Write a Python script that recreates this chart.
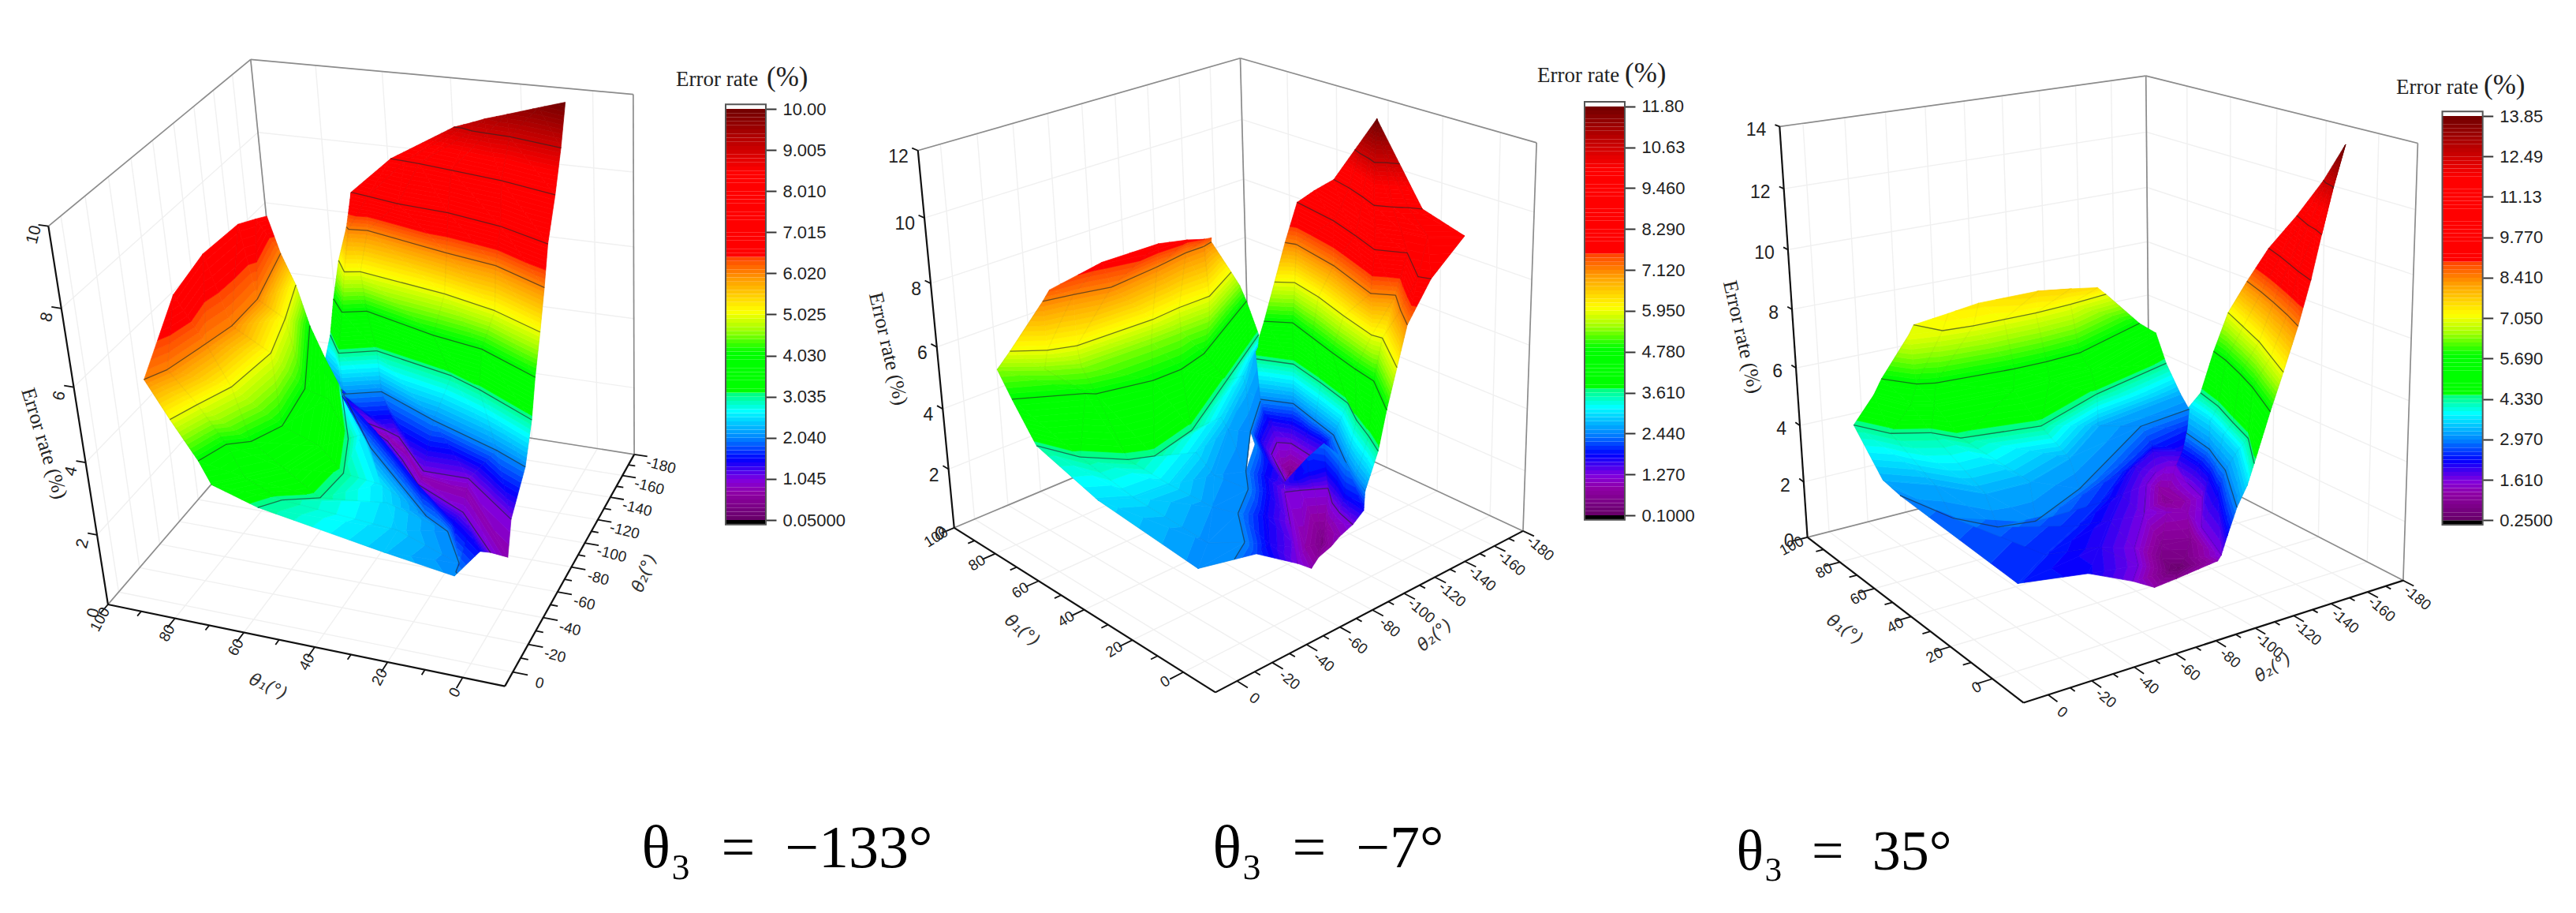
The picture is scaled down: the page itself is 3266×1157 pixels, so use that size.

import numpy as np, altair as alt, pandas as pd

# ---------- readings from the picture ----------
# Angles are (theta1, theta2) in degrees measured along the floor box edges; err is the error rate in %.
p1a_angles = [
 [(43,-168),(38,-167),(35,-168),(29,-167),(21,-167),(14,-165)],
 [(43,-168),(41,-168),(38,-166),(34,-165),(28,-164),(14,-158)],
 [(60,-167),(56,-166),(52,-165),(43,-162),(29,-157),(14,-149)],
 [(71,-165),(66,-163),(57,-159),(43,-156),(28,-149),(14,-138)],
 [(73,-165),(72,-163),(67,-164),(43,-152),(29,-146),(14,-132)],
 [(76,-165),(72,-155),(68,-157),(43,-147),(28,-138),(14,-125)],
 [(77,-160),(72,-149),(66,-153),(45,-140),(31,-134),(14,-117)],
 [(78,-157),(72,-142),(63,-149),(40,-137),(31,-129),(14,-111)],
 [(80,-153),(70,-136),(61,-143),(43,-126),(23,-110),(14,-101)],
 [(67,-143),(60,-139),(55,-135),(43,-111),(31,-111),(15,-86)],
 [(67,-148),(59,-140),(52,-131),(44,-113),(31,-108),(12,-66)],
 [(64,-138),(57,-130),(50,-117),(42,-100),(27,-85),(15,-60)],
 [(64,-125),(56,-115),(46,-97),(39,-82),(25,-62),(15,-46)]]
p1a_err = [[9.005,9.2,9.3,9.5,9.75,10.0],[9.005]*6,[8.01]*6,[7.015]*6,[6.02]*6,[5.025]*6,[4.03]*6,[3.035]*6,[2.04]*6,[1.045]*6,[.75]*6,[1.045]*6,[1.6]*6]
p1b_angles = [
 [(86,-13),(90,-56),(93,-94),(92,-125),(89,-132),(87,-136)],
 [(86,-13),(83,-23),(80,-47),(78,-64),(78,-89),(83,-132)],
 [(81,-14),(78,-28),(74,-45),(72,-76),(76,-106),(81,-137)],
 [(75,-14),(72,-29),(67,-34),(63,-49),(65,-80),(77,-133)],
 [(71,-10),(65,-19),(58,-30),(54,-50),(61,-87),(70,-120)],
 [(61,-14),(57,-22),(49,-28),(48,-48),(53,-74),(64,-112)],
 [(31,-16),(31,-31),(37,-46),(41,-57),(54,-92),(67,-122)],
 [(14,-15),(15,-25),(22,-45),(29,-53),(53,-96),(70,-136)],
 [(15,-49),(20,-57),(25,-65),(39,-88),(59,-125),(73,-146)]]
p1b_err = [[6.02,6.9,6.9,6.9,6.9,6.9],[6.02]*6,[5.025]*6,[4.03]*6,[3.6]*6,[3.035]*6,[2.35,2.4,2.5,2.55,2.55,2.6],[2.1,2.04,2.04,2.04,2.04,2.04],[1.5,1.5,1.5,1.5,1.5,1.6]]

p2a_angles = [
 [(42,-165)]*7,
 [(50,-166),(47,-164),(43,-162),(40,-160),(38,-163),(37,-164),(35,-166)],
 [(58,-167),(51,-164),(44,-160),(38,-156),(34,-160),(31,-164),(28,-167)],
 [(65,-167),(52,-161),(43,-156),(36,-153),(30,-158),(23,-161),(17,-172)],
 [(72,-168),(56,-163),(45,-157),(35,-151),(28,-158),(16,-142),(13,-144)],
 [(72,-160),(69,-162),(52,-156),(33,-145),(28,-151),(21,-141),(14,-132)],
 [(72,-153),(68,-159),(57,-155),(44,-148),(31,-142),(28,-143),(14,-126)],
 [(72,-146),(66,-154),(56,-149),(46,-144),(35,-139),(27,-136),(14,-120)],
 [(73,-140),(63,-149),(50,-144),(37,-138),(29,-129),(21,-122),(14,-115)],
 [(70,-136),(61,-145),(50,-140),(41,-136),(28,-121),(21,-114),(15,-109)],
 [(67,-139),(61,-144),(55,-143),(48,-142),(40,-130),(33,-121),(23,-112)],
 [(62,-136),(59,-140),(55,-139),(51,-138),(47,-133),(43,-127),(37,-120)],
 [(58,-126),(56,-129),(55,-132),(55,-132),(55,-132),(49,-124),(39,-116)],
 [(42,-107)]*7]
p2a_err = [[11.8]*7,[10.63]*7,[9.46]*7,[8.9]*7,[8.29]*7,[7.12]*7,[5.95]*7,[4.78]*7,[3.61]*7,[2.44]*7,[1.7]*7,[1.27]*7,[1.27,.9,.6,.6,.6,.9,1.2],[1.5]*7]
p2d_angles = [
 [(68,-136),(68,-138),(67,-141),(67,-139)],
 [(57,-112),(59,-118),(60,-123),(62,-136)],
 [(51,-105),(51,-110),(51,-114),(58,-126)],
 [(42,-85),(44,-99),(42,-107),(42,-107)],
 [(35,-75),(38,-91),(41,-106),(41,-106)],
 [(28,-58),(30,-76),(29,-89),(29,-89)],
 [(17,-44),(20,-62),(19,-77),(19,-77)],
 [(13,-32),(15,-47),(14,-68),(14,-68)]]
p2d_err = [[2.44,2.0,1.7,1.7],[2.44,2.05,1.7,1.27],[2.44,1.95,1.6,1.27],[2.44,1.85,1.5,1.5],[2.44,1.8,1.27,1.27],[2.44,1.8,1.27,1.27],[2.44,1.75,1.27,1.27],[2.44,2.1,1.27,1.27]]
p2b_angles = [
 [(42,-107),(42,-113),(42,-122),(41,-130),(32,-124),(28,-121),(15,-109)],
 [(41,-106),(38,-108),(38,-115),(37,-124),(30,-119),(24,-113),(16,-110)],
 [(41,-106),(39,-112),(37,-117),(35,-122),(29,-114),(24,-110),(18,-107)],
 [(14,-68),(22,-86),(25,-101),(25,-101),(26,-105),(25,-107),(18,-107)],
 [(14,-68),(13,-74),(13,-74),(17,-85),(18,-94),(19,-101),(18,-107)]]
p2b_err = [[1.5,1.7,2.0,2.3,2.44,2.44,2.44],[1.45,1.8,1.9,1.9,1.9,1.9,1.75],[1.27]*7,[1.27,.9,.5,.5,.8,1.0,1.27],[1.27,1.0,1.0,.85,.9,1.0,1.27]]
p2c_angles = [
 [(86,-44),(85,-72),(82,-100),(82,-117),(81,-125),(82,-131),(86,-137)],
 [(86,-40),(84,-54),(81,-71),(83,-100),(85,-120),(85,-131),(86,-137)],
 [(86,-21),(80,-33),(77,-45),(76,-86),(77,-103),(77,-121),(85,-147)],
 [(88,-16),(80,-31),(75,-44),(74,-82),(74,-99),(74,-116),(85,-152)],
 [(81,-14),(71,-40),(69,-43),(65,-69),(65,-85),(68,-103),(85,-156)],
 [(73,-15),(61,-22),(52,-35),(49,-45),(53,-72),(68,-116),(83,-160)],
 [(49,-14),(44,-26),(43,-44),(51,-71),(61,-101),(75,-137),(86,-164)],
 [(15,-16),(22,-32),(33,-52),(44,-70),(59,-102),(72,-134),(87,-164)],
 [(13,-32),(17,-44),(28,-58),(35,-75),(42,-85),(57,-112),(68,-136)]]
p2c_err = [[7.4,7.75,7.9,7.7,7.6,7.5,7.12],[7.12]*7,[5.95]*7,[5.4]*7,[4.78]*7,[3.61]*7,[3.0]*7,[2.5,2.5,2.55,2.6,2.65,2.7,2.8],[2.44]*7]

p3a_angles = [
 [(12,-163)]*5,
 [(21,-166),(19,-164),(17,-163),(15,-162),(14,-160)],
 [(30,-166),(26,-163),(22,-160),(18,-158),(14,-155)],
 [(40,-166),(33,-162),(27,-158),(21,-154),(14,-150)],
 [(48,-166),(39,-161),(31,-156),(22,-150),(14,-144)],
 [(56,-167),(45,-160),(34,-153),(24,-145),(14,-137)],
 [(58,-162),(51,-159),(41,-153),(32,-147),(17,-135)],
 [(58,-155),(48,-151),(37,-144),(27,-138),(14,-123)],
 [(63,-155),(52,-152),(43,-147),(33,-141),(15,-121)],
 [(61,-149),(47,-145),(40,-140),(34,-136),(15,-116)],
 [(62,-147),(51,-145),(44,-141),(34,-132),(14,-110)],
 [(60,-141),(52,-140),(43,-136),(29,-117),(14,-107)]]
p3a_err = [[13.85]*5,[12.49]*5,[11.13]*5,[9.77]*5,[8.41]*5,[7.05]*5,[5.69]*5,[4.33]*5,[3.6]*5,[2.97]*5,[2.2]*5,[1.61]*5]
p3c_angles = [
 [(92,-49),(90,-64),(91,-80),(87,-106),(84,-119),(83,-132),(86,-140)],
 [(86,-41),(84,-55),(83,-69),(83,-84),(83,-100),(84,-119),(86,-140)],
 [(87,-28),(79,-37),(77,-44),(75,-80),(75,-96),(76,-114),(87,-159)],
 [(87,-24),(76,-31),(73,-39),(71,-75),(72,-94),(73,-116),(87,-168)],
 [(87,-14),(77,-22),(72,-36),(65,-43),(61,-77),(72,-118),(81,-166)],
 [(70,-11),(61,-26),(50,-38),(50,-59),(57,-86),(71,-117),(78,-170)],
 [(64,-13),(46,-19),(36,-29),(34,-44),(44,-76),(69,-137),(72,-167)],
 [(16,-16),(25,-38),(34,-63),(42,-83),(54,-108),(65,-138),(69,-162)],
 [(15,-46),(27,-65),(38,-83),(49,-102),(62,-125),(68,-142),(64,-153)],
 [(14,-65),(20,-75),(28,-83),(42,-105),(57,-125),(62,-136),(63,-148)]]
p3c_err = [[7.05,7.3,7.4,7.6,7.6,7.5,7.05],[7.05]*7,[5.69]*7,[5.2]*7,[4.33]*7,[3.25]*7,[2.97]*7,[2.45]*7,[2.2,2.05,2.05,2.05,2.05,2.05,2.05],[1.61]*7]
p3e_angles = [
 [(62,-136),(64,-144),(63,-148),(57,-141)],
 [(57,-125),(60,-135),(58,-138),(52,-140)],
 [(44,-108),(56,-133),(49,-135),(43,-136)],
 [(42,-105),(44,-119),(42,-127),(37,-128)],
 [(28,-83),(36,-106),(34,-118),(29,-117)],
 [(20,-75),(32,-101),(29,-109),(14,-107)],
 [(14,-65),(28,-100),(30,-107),(16,-108)],
 [(14,-75),(14,-75),(20,-93),(16,-108)]]
p3e_err = [[1.61]*4,[1.61,1.2,1.2,1.61],[1.61,.95,1.2,1.61],[1.61,1.35,1.3,1.61],[1.61,.85,.9,1.61],[1.61,.7,.7,1.61],[1.61,.5,.35,1.3],[1.2,1.2,.8,1.3]]

theta1_ticks = [0,20,40,60,80,100]
theta2_ticks = [0,-20,-40,-60,-80,-100,-120,-140,-160,-180]
panel_titles = ["θ₃\u2002=\u2002−133°","θ₃\u2002=\u2002−7°","θ₃\u2002=\u200235°"]
bar_ranges = [(0.05,10.0),(0.1,11.8),(0.25,13.85)]
z_tops = [10,12,14]

# ---------- layout ----------
W,H = 3250,1141
PANELS = [
 dict(box=[(0,0,0,640,871),(100,0,0,137.3,764.5),(0,180,0,804.5,573.9),(100,180,0,360.1,507.8),(100,0,1,61,286.8),(0,180,1,802.5,120.4),(100,180,1,318.4,74.4)],
      sheets=[(p1a_angles,p1a_err),(p1b_angles,p1b_err)],
      bar=(920,971,138,659), title=(857,972,109), d1=11,d2=10, zsize=21,
      t1=(-10,19,-62,19), t2=(34,14,14,19), zl=(-18,11,-76,"center"),
      ax1=(340,870,25), ax2=(817,726,-68), er=(56,562,73), big=(998,1099,76)),
 dict(box=[(0,0,0,1540,878),(100,0,0,1211.4,668.6),(0,180,0,1932.9,671.5),(100,180,0,1582,512.4),(100,0,1,1162.9,190.4),(0,180,1,1947,181.8),(100,180,1,1574.3,73.3)],
      sheets=[(p2a_angles,p2a_err),(p2d_angles,p2d_err),(p2c_angles,p2c_err),(p2b_angles,p2b_err)],
      bar=(2009,2060,134.7,653), title=(1949,2060,104), d1=12,d2=12, zsize=23,
      t1=(-23,12,-32,19), t2=(22,22,40,19), zl=(-12,8,0,"right"),
      ax1=(1296,799,40), ax2=(1819,805,-40), er=(1126,442,77), big=(1684,1099,76)),
 dict(box=[(0,0,0,2565.5,891.3),(100,0,0,2291.9,680),(0,180,0,3047.4,734.6),(100,180,0,2724.7,571),(100,0,1,2256.1,160.6),(0,180,1,3065,181.8),(100,180,1,2721.2,95.7)],
      sheets=[(p3a_angles,p3a_err),(p3c_angles,p3c_err),(p3e_angles,p3e_err)],
      bar=(3096.5,3147.7,147,659.4), title=(3038,3149,119), d1=14,d2=11, zsize=23,
      t1=(-20,11,-28,19), t2=(18,22,40,19), zl=(-17,5,0,"right"),
      ax1=(2339,798,35), ax2=(2882,846,-32), er=(2209,427,77), big=(2338,1102,72)),
]

STOPS = [(-0.02,'#000000'),(-0.0001,'#000000'),(0,'#660066'),(0.068,'#9000a8'),(0.098,'#8000e0'),(0.148,'#0000ff'),(0.197,'#0080ff'),
         (0.265,'#00ffff'),(0.307,'#00ff80'),(0.312,'#00ff00'),(0.409,'#00ff00'),(0.462,'#a0ff00'),(0.508,'#ffff00'),(0.583,'#ffa000'),
         (0.640,'#ff4000'),(0.644,'#ff0000'),(0.848,'#ff0000'),(1,'#700000'),(1.0001,'#ffffff'),(1.02,'#ffffff')]
color_scale = alt.Scale(domain=[s[0] for s in STOPS], range=[s[1] for s in STOPS], interpolate='rgb')

def camera(box):
    A=[];b=[]
    for t1,t2,w,X,Y in box:
        u,v=t1/100,t2/180
        A.append([u,v,w,1,0,0,0,0,-X*u,-X*v,-X*w]);b.append(X)
        A.append([0,0,0,0,u,v,w,1,-Y*u,-Y*v,-Y*w]);b.append(Y)
    p=np.linalg.lstsq(np.array(A,float),np.array(b,float),rcond=None)[0]
    return np.array([p[:4],p[4:8],[p[8],p[9],p[10],1.0]])

def project(P,t1,t2,w):
    q=P@np.array([t1/100,-t2/180,w,1.0])
    return [round(float(q[0]/q[2])-8,2),round(float(q[1]/q[2])-8,2)]

def clip(poly,lo,hi):
    def cut(pts,inside,level):
        out=[]
        for i,a in enumerate(pts):
            b=pts[(i+1)%len(pts)]
            ia,ib=inside(a[2]),inside(b[2])
            if ia: out.append(a)
            if ia!=ib:
                s=(level-a[2])/(b[2]-a[2])
                out.append((a[0]+s*(b[0]-a[0]),a[1]+s*(b[1]-a[1]),level))
        return out
    r=cut(poly,lambda z:z>=lo,lo)
    if len(r)>=3: r=cut(r,lambda z:z<=hi,hi)
    return r if len(r)>=3 else []

features=[]; frame=[]; labels=[]
def feat(kind,geom,t=0,op=1,sw=0.7):
    return {"type":"Feature","geometry":geom,"properties":{"kind":kind,"t":t,"op":op,"sw":sw}}

NB=100
WIRE_W={'grid':1.4,'box':1.7,'axis':2.2,'tick':1.8}
for idx,pn in enumerate(PANELS):
    P=camera(pn['box']); zmin,zmax=bar_ranges[idx]; ztop=z_tops[idx]
    major=(zmax-zmin)/10
    step=(zmax-zmin)/NB
    def pr(n): return project(P,n[0],n[1],n[2]/ztop)
    for ang,err in pn['sheets']:
        lines=[]; mesh=[]
        for j in range(len(ang[0])):
            mesh.append(feat('m',{"type":"LineString","coordinates":[pr((*ang[i][j],err[i][j])) for i in range(len(ang))]},op=0.05,sw=1.2))
        for i in range(len(ang)-1):
            for j in range(len(ang[0])-1):
                a=(*ang[i][j],err[i][j]); b=(*ang[i][j+1],err[i][j+1])
                c=(*ang[i+1][j+1],err[i+1][j+1]); d=(*ang[i+1][j],err[i+1][j])
                for tri in ((a,b,c),(a,c,d)):
                    if len({t for t in tri})<3: continue
                    zs=[t[2] for t in tri]
                    k0=int(max(0,np.floor((min(zs)-zmin)/step))); k1=int(min(NB-1,np.floor((max(zs)-zmin)/step)))
                    for k in range(k0,k1+1):
                        lo=zmin+k*step; hi=lo+step
                        poly=clip(list(tri),lo,hi)
                        if poly:
                            ring=[pr(n) for n in poly]; ring.append(ring[0])
                            features.append(feat('s',{"type":"Polygon","coordinates":[ring]},round((k+.5)/NB,4)))
                    for m in range(1,11):
                        L=zmin+m*major+1e-4
                        cross=[]
                        for q in range(3):
                            u,v=tri[q],tri[(q+1)%3]
                            if (u[2]-L)*(v[2]-L)<0:
                                s=(L-u[2])/(v[2]-u[2])
                                cross.append((u[0]+s*(v[0]-u[0]),u[1]+s*(v[1]-u[1]),L))
                        if len(cross)==2:
                            lines.append(feat('c',{"type":"LineString","coordinates":[pr(cross[0]),pr(cross[1])]},op=0.62,sw=1.3))
        features.extend(mesh); features.extend(lines)
    d1,d2=pn['d1'],pn['d2']
    bu=lambda t:(t+d1)/(100+d1)*100
    bv=lambda t:-(d2-t)/(180+d2)*180
    def seg(kind,a,b):
        frame.append(feat(kind,{"type":"LineString","coordinates":[project(P,*a),project(P,*b)]},sw=WIRE_W[kind]))
    for t in theta1_ticks:
        u=bu(t); seg('grid',(u,0,0),(u,-180,0)); seg('grid',(u,-180,0),(u,-180,1))
    for t in theta2_ticks:
        v=bv(t); seg('grid',(0,v,0),(100,v,0)); seg('grid',(100,v,0),(100,v,1))
    for z in range(2,ztop+1,2):
        w=z/ztop; seg('grid',(100,0,w),(100,-180,w)); seg('grid',(100,-180,w),(0,-180,w))
    for a,b in [((100,0,0),(100,-180,0)),((100,-180,0),(0,-180,0)),((100,-180,0),(100,-180,1)),((0,-180,0),(0,-180,1)),((100,0,1),(100,-180,1)),((100,-180,1),(0,-180,1))]:
        seg('box',a,b)
    for a,b in [((100,0,0),(0,0,0)),((0,0,0),(0,-180,0)),((100,0,0),(100,0,1))]:
        seg('axis',a,b)
    for t in range(0,101,10):
        L=7 if t%20==0 else 3.5
        seg('tick',(bu(t),0,0),(bu(t),L,0))
    for t in range(0,-181,-10):
        L=3.5 if t%20==0 else 1.8
        seg('tick',(0,bv(t),0),(-L,bv(t),0))
    for z in range(2,ztop+1,2):
        seg('tick',(100,0,z/ztop),(102.5,0,z/ztop))
    for t in theta1_ticks:
        x,y=project(P,bu(t),0,0)
        labels.append(dict(x=x+pn['t1'][0],y=y+pn['t1'][1],a=pn['t1'][2],s=pn['t1'][3],txt=str(t),st='sans'))
    for t in theta2_ticks:
        x,y=project(P,0,bv(t),0)
        labels.append(dict(x=x+pn['t2'][0],y=y+pn['t2'][1],a=pn['t2'][2],s=pn['t2'][3],txt=str(t),st='sans'))
    zl=pn['zl']
    for z in range(0,ztop+1,2):
        x,y=project(P,100,0,z/ztop)
        labels.append(dict(x=x+zl[0],y=y+zl[1],a=zl[2],s=pn['zsize'],txt=str(z),st='sans' if zl[3]=='center' else 'sansr'))
    labels.append(dict(x=pn['ax1'][0]-8,y=pn['ax1'][1]-8,a=pn['ax1'][2],s=22,txt="θ₁(°)",st='ital'))
    labels.append(dict(x=pn['ax2'][0]-8,y=pn['ax2'][1]-8,a=pn['ax2'][2],s=22,txt="θ₂(°)",st='ital'))
    labels.append(dict(x=pn['er'][0]-8,y=pn['er'][1]-8,a=pn['er'][2],s=26,txt="Error rate (%)",st='serif'))
    tx,px,ty=pn['title']
    labels.append(dict(x=tx-8,y=ty-8,a=0,s=27,txt="Error rate",st='seriftitle'))
    labels.append(dict(x=px-8,y=ty-8,a=0,s=35,txt="(%)",st='seriftitle'))
    bx,by,bs=pn['big']
    labels.append(dict(x=bx-8,y=by-8,a=0,s=bs,txt=panel_titles[idx],st='big'))

surface = alt.Chart(alt.Data(values=features)).mark_geoshape(clip=False).project(type='identity',scale=1,translate=[0,0]).encode(
    fill=alt.condition("datum.properties.kind!='s'",alt.value('transparent'),alt.Fill('properties.t:Q',scale=color_scale,legend=None)),
    stroke=alt.condition("datum.properties.kind!='s'",alt.value('#1e2828'),alt.Stroke('properties.t:Q',scale=color_scale,legend=None)),
    strokeWidth=alt.StrokeWidth('properties.sw:Q',scale=None,legend=None),
    strokeOpacity=alt.StrokeOpacity('properties.op:Q',scale=None,legend=None))
wire = alt.Chart(alt.Data(values=frame)).mark_geoshape(filled=False,clip=False).project(type='identity',scale=1,translate=[0,0]).encode(
    stroke=alt.Stroke('properties.kind:N',scale=alt.Scale(domain=['grid','box','axis','tick'],range=['#f0f0f0','#8c8c8c','#111111','#111111']),legend=None),
    strokeWidth=alt.StrokeWidth('properties.sw:Q',scale=None,legend=None))

bars=[]
for idx,pn in enumerate(PANELS):
    zmin,zmax=bar_ranges[idx]; xl,xr,yt,yb=pn['bar']; nb=NB; step=(zmax-zmin)/nb; pad=(zmax-zmin)*0.011
    rows=[dict(lo=zmin+k*step,hi=zmin+(k+1)*step,t=(k+.5)/nb) for k in range(nb)]
    rows+= [dict(lo=zmin-pad,hi=zmin,t=-0.01),dict(lo=zmax,hi=zmax+pad,t=1.01)]
    major=(zmax-zmin)/10
    yscale=alt.Scale(domain=[zmin,zmax],range=[yb-8,yt-8])
    ticks=[zmin+i*major for i in range(11)]
    b=alt.Chart(pd.DataFrame(rows)).mark_rect(stroke=None).encode(
        x=alt.value(xl-8),x2=alt.value(xr-8),
        y=alt.Y('lo:Q',scale=yscale,axis=alt.Axis(values=[round(v,4) for v in ticks],format='.4r',orient='right',offset=(xr-8)-W,
              title=None,grid=False,domain=False,tickSize=13,tickWidth=2,tickColor='#333333',labelFont='Liberation Sans',labelFontSize=22,labelColor='#222222',labelPadding=8,labelOverlap=False)),
        y2='hi:Q',fill=alt.Fill('t:Q',scale=color_scale,legend=None))
    f=alt.Chart(pd.DataFrame([dict(lo=zmin-pad,hi=zmax+pad)])).mark_rect(filled=False,stroke='#555555',strokeWidth=2).encode(
        x=alt.value(xl-8),x2=alt.value(xr-8),y=alt.Y('lo:Q',scale=yscale,axis=None),y2='hi:Q')
    bars+=[b,f]

ldf=pd.DataFrame(labels)
def txt(style,**kw):
    return alt.Chart(ldf[ldf.st==style]).mark_text(**kw).encode(
        x=alt.X('x:Q',scale=None,axis=None),y=alt.Y('y:Q',scale=None,axis=None),text='txt:N',
        angle=alt.Angle('a:Q',scale=None),size=alt.Size('s:Q',scale=None,legend=None))
texts=[txt('sans',font='Liberation Sans',color='#222222',align='center',baseline='middle'),
       txt('sansr',font='Liberation Sans',color='#222222',align='right',baseline='middle'),
       txt('ital',font='DejaVu Sans',fontStyle='italic',color='#333333',align='center',baseline='middle'),
       txt('serif',font='Liberation Serif',color='#222222',align='center',baseline='middle'),
       txt('seriftitle',font='Liberation Serif',color='#222222',align='left',baseline='alphabetic'),
       txt('big',font='Liberation Serif',color='#000000',align='center',baseline='alphabetic')]

chart = alt.layer(wire,surface,*bars,*texts).resolve_scale(y='independent',x='independent').properties(width=W,height=H,padding=0,autosize='none').configure_view(stroke=None)
chart.save("out.html",embed_options={"renderer":"svg","actions":False})
